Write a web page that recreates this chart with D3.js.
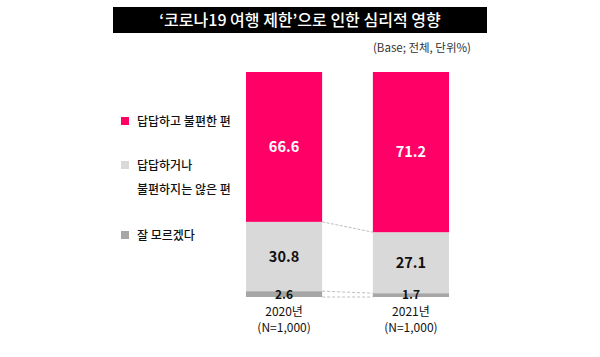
<!DOCTYPE html>
<html><head><meta charset="utf-8">
<script src="https://cdn.jsdelivr.net/npm/d3@7"></script>
<style>body{margin:0;background:#fff}svg{display:block}text{font-family:"Noto Sans CJK KR","Noto Sans",sans-serif}</style>
</head><body>
<svg id="c" width="600" height="357"></svg>
<script>
const years = ["2020년", "2021년"];
const sampleLabels = ["(N=1,000)", "(N=1,000)"];
const seriesNames = ["답답하고 불편한 편", "답답하거나\n불편하지는 않은 편", "잘 모르겠다"];
const uncomfortable = [66.6, 71.2];
const notUncomfortable = [30.8, 27.1];
const dontKnow = [2.6, 1.7];
const colors = ["#ff0066", "#d9d9d9", "#a6a6a6"];
const title = "‘코로나19 여행 제한’으로 인한 심리적 영향";
const note = "(Base; 전체, 단위%)";

const svg = d3.select("#c");
svg.append("rect").attr("x",113).attr("y",7).attr("width",374).attr("height",26).attr("fill","#000");
svg.append("text").attr("x",300).attr("y",26).attr("text-anchor","middle").attr("fill","#fff")
  .attr("font-size",16).attr("font-weight",500).text(title);
svg.append("text").attr("x",471).attr("y",52).attr("text-anchor","end").attr("fill","#333")
  .attr("font-size",11.5).text(note);

const data = years.map((y,i)=>({year:y, n:sampleLabels[i], s0:uncomfortable[i], s1:notUncomfortable[i], s2:dontKnow[i]}));
const keys = ["s2","s1","s0"];
const colorOf = {s0:colors[0], s1:colors[1], s2:colors[2]};
const stack = d3.stack().keys(keys)(data);

const x = d3.scaleBand().domain(years).range([246,449]).paddingInner(0.4).paddingOuter(0);
const y = d3.scaleLinear().domain([0,100]).range([297,72]);

const bw = x.bandwidth();
const bounds = [[0,0]];
stack.forEach(layer=>{ bounds.push(layer.map(d=>d[1])); });
[0,1,2].forEach(bi=>{
  const b = bounds[bi];
  svg.append("line")
    .attr("x1", x(years[0])+bw).attr("x2", x(years[1]))
    .attr("y1", y(b[0])).attr("y2", y(b[1]))
    .attr("stroke", "#bfbfbf").attr("stroke-width",1)
    .attr("stroke-dasharray", bi===2 ? "3,1.5" : "3,2");
});

svg.append("g").selectAll("g").data(stack).join("g").attr("fill",d=>colorOf[d.key])
  .selectAll("rect").data(d=>d).join("rect")
  .attr("x",d=>x(d.data.year)).attr("width",bw)
  .attr("y",d=>y(d[1])).attr("height",d=>y(d[0])-y(d[1]));

data.forEach(d=>{
  const cx = x(d.year)+bw/2;
  const top0 = d.s2 + d.s1;
  svg.append("text").attr("x",cx).attr("y",(y(top0)+y(100))/2+5).attr("text-anchor","middle")
    .attr("fill","#fff").attr("font-weight",700).attr("font-size",14.5).text(d3.format(".1f")(d.s0));
  svg.append("text").attr("x",cx).attr("y",(y(d.s2)+y(top0))/2+5).attr("text-anchor","middle")
    .attr("fill","#111").attr("font-weight",700).attr("font-size",14.5).text(d3.format(".1f")(d.s1));
  svg.append("text").attr("x",cx).attr("y",y(0)+2).attr("text-anchor","middle")
    .attr("fill","#111").attr("font-weight",700).attr("font-size",12).text(d3.format(".1f")(d.s2));
  svg.append("text").attr("x",cx).attr("y",316).attr("text-anchor","middle")
    .attr("fill","#111").attr("font-size",12).text(d.year);
  svg.append("text").attr("x",cx).attr("y",332).attr("text-anchor","middle")
    .attr("fill","#111").attr("font-size",12).text(d.n);
});

const legY = [121, 165, 235];
seriesNames.forEach((name,i)=>{
  svg.append("rect").attr("x",121).attr("y",legY[i]-4).attr("width",8).attr("height",8).attr("fill",colors[i]);
  name.split("\n").forEach((ln,j)=>{
    svg.append("text").attr("x",137).attr("y",legY[i]+5+j*24).attr("fill","#111")
      .attr("font-size",12).attr("font-weight",500).text(ln);
  });
});
</script>
</body></html>
